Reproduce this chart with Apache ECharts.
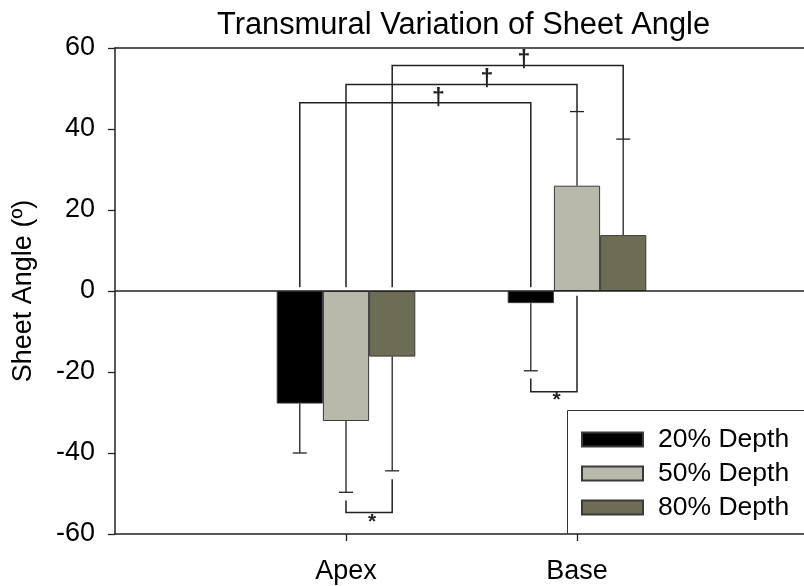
<!DOCTYPE html>
<html>
<head>
<meta charset="utf-8">
<script src="https://cdn.jsdelivr.net/npm/echarts@6/dist/echarts.min.js"></script>
<style>html,body{margin:0;padding:0;background:#fff;overflow:hidden}#c{width:804px;height:586px}</style>
</head>
<body>
<div id="c"></div>
<script>
// ---- data ----
const categories = ['Apex', 'Base'];
const seriesNames = ['20% Depth', '50% Depth', '80% Depth'];
const depth20 = [-27.8, -3.0];
const depth50 = [-32.1, 26.0];
const depth80 = [-16.2, 13.8];
const err20 = [12.2, 16.7];
const err50 = [17.6, 18.3];
const err80 = [28.2, 23.7];
const yTicks = [-60, -40, -20, 0, 20, 40, 60];
// significance brackets: ends (category, depth index), start values, bracket level, mark and its place
const bracketFromCat = ['Apex', 'Apex', 'Apex', 'Apex', 'Base'];
const bracketFromDepth = [0, 1, 2, 1, 0];
const bracketFromY = [0.9, 0.9, 0.9, -51.7, -21.6];
const bracketToCat = ['Base', 'Base', 'Base', 'Apex', 'Base'];
const bracketToDepth = [0, 1, 2, 2, 1];
const bracketToY = [0.9, 44.3, 37.5, -46.5, -1.2];
const bracketLevel = [46.5, 51.0, 55.7, -54.7, -24.9];
const bracketMark = ['†', '†', '†', '*', '*'];
const bracketMarkX = [1.40, 1.61, 1.77, 1.113, 1.912];
const bracketMarkY = [47.4, 52.2, 56.9, -57.2, -27.0];

// ---- build ----
const values = [depth20, depth50, depth80];
const errs = [err20, err50, err80];
const colors = ['#000000', '#b8b8ab', '#6d6d55'];
const axisCats = [''].concat(categories, ['']);
const GROUP_OFF = 0.2;
const catPos = c => categories.indexOf(c) + 1;
const depthPos = (c, d) => catPos(c) + (d - 1) * GROUP_OFF;

const LINE = '#222';
const FONT = 'Liberation Sans, Arial, sans-serif';

const barSeries = seriesNames.map((name, d) => ({
  name, type: 'bar', xAxisIndex: 0, yAxisIndex: 0,
  barWidth: '20%', barGap: '0%',
  data: [null].concat(values[d], [null]),
  itemStyle: { color: colors[d], borderColor: '#3a3a3a', borderWidth: 1 },
  silent: true,
  markLine: d === 0 ? {
    silent: true, symbol: ['none', 'none'], label: { show: false },
    lineStyle: { color: LINE, type: 'solid', width: 1.5 },
    data: [{ yAxis: 0 }]
  } : undefined
}));

const errData = [];
for (let d = 0; d < 3; d++) {
  for (let i = 0; i < categories.length; i++) {
    errData.push([depthPos(categories[i], d), values[d][i], errs[d][i]]);
  }
}

const errSeries = {
  type: 'custom', xAxisIndex: 1, yAxisIndex: 0, silent: true, z: 5,
  data: errData,
  renderItem(params, api) {
    const x = api.value(0), v = api.value(1), e = api.value(2);
    const end = v >= 0 ? v + e : v - e;
    const p0 = api.coord([x, v]), p1 = api.coord([x, end]);
    const st = { stroke: LINE, lineWidth: 1.3 };
    return { type: 'group', children: [
      { type: 'line', shape: { x1: p0[0], y1: p0[1], x2: p1[0], y2: p1[1] }, style: st },
      { type: 'line', shape: { x1: p1[0] - 7, y1: p1[1], x2: p1[0] + 7, y2: p1[1] }, style: st }
    ]};
  }
};

const brData = bracketLevel.map((lv, k) => [
  depthPos(bracketFromCat[k], bracketFromDepth[k]), bracketFromY[k],
  depthPos(bracketToCat[k], bracketToDepth[k]), bracketToY[k],
  lv, bracketMarkX[k], bracketMarkY[k], k
]);

const brSeries = {
  type: 'custom', xAxisIndex: 1, yAxisIndex: 0, silent: true, z: 6,
  data: brData,
  renderItem(params, api) {
    const a = api.coord([api.value(0), api.value(1)]);
    const aL = api.coord([api.value(0), api.value(4)]);
    const bL = api.coord([api.value(2), api.value(4)]);
    const b = api.coord([api.value(2), api.value(3)]);
    const m = api.coord([api.value(5), api.value(6)]);
    const k = api.value(7);
    const mark = bracketMark[k];
    return { type: 'group', children: [
      { type: 'polyline', shape: { points: [a, aL, bL, b] }, style: { stroke: LINE, lineWidth: 1.5, fill: null } },
      { type: 'text', x: m[0], y: m[1], style: {
        text: mark, fontSize: mark === '*' ? 21 : 23, fontWeight: 'bold', fontFamily: FONT, fill: '#222',
        align: 'center', verticalAlign: 'middle' } }
    ]};
  }
};

const chart = echarts.init(document.getElementById('c'), null, { renderer: 'canvas' });
chart.setOption({
  animation: false,
  backgroundColor: '#fff',
  title: {
    text: 'Transmural Variation of Sheet Angle',
    left: 217, top: 10, padding: 0,
    textStyle: { fontFamily: FONT, fontSize: 30.8, fontWeight: 'normal', color: '#000' }
  },
  grid: { left: 115, top: 48, width: 693, bottom: 52, containLabel: false, outerBoundsMode: 'none' },
  graphic: [{
    type: 'polyline', z: 3, silent: true,
    shape: { points: [[820, 410.5], [567.5, 410.5], [567.5, 534]] },
    style: { fill: null, stroke: '#333', lineWidth: 1 }
  }],
  legend: {
    orient: 'vertical', left: 567, top: 410, z: 4,
    data: seriesNames,
    icon: 'rect', itemWidth: 61, itemHeight: 14, itemGap: 7,
    padding: [16, 10, 16, 14],
    selectedMode: false,
    textStyle: { fontFamily: FONT, fontSize: 26.5, lineHeight: 26, color: '#000', padding: [0, 0, 0, 10] }
  },
  xAxis: [{
    type: 'category', data: axisCats, boundaryGap: false,
    axisLine: { onZero: false, lineStyle: { color: LINE, width: 1.5 } },
    axisTick: { show: true, inside: false, length: 7, interval: (i) => i >= 1 && i <= categories.length, lineStyle: { color: LINE, width: 1.3 } },
    axisLabel: { margin: 24, fontFamily: FONT, fontSize: 27, color: '#000', interval: 0 },
    splitLine: { show: false }
  }, {
    type: 'value', min: 0, max: axisCats.length - 1, position: 'top',
    axisLine: { show: true, onZero: false, lineStyle: { color: LINE, width: 1.5 } },
    axisTick: { show: false }, axisLabel: { show: false }, splitLine: { show: false }
  }],
  yAxis: [{
    type: 'value', min: yTicks[0], max: yTicks[yTicks.length - 1], interval: 20,
    name: 'Sheet Angle (º)', nameLocation: 'middle', nameGap: 78,
    nameTextStyle: { fontFamily: FONT, fontSize: 27, color: '#000' },
    axisLine: { show: true, lineStyle: { color: LINE, width: 1.5 } },
    axisTick: { show: true, inside: false, length: 7, lineStyle: { color: LINE, width: 1.3 } },
    axisLabel: { margin: 20, fontFamily: FONT, fontSize: 27, color: '#000' },
    splitLine: { show: false }
  }],
  series: barSeries.concat([errSeries, brSeries])
});
</script>
</body>
</html>
